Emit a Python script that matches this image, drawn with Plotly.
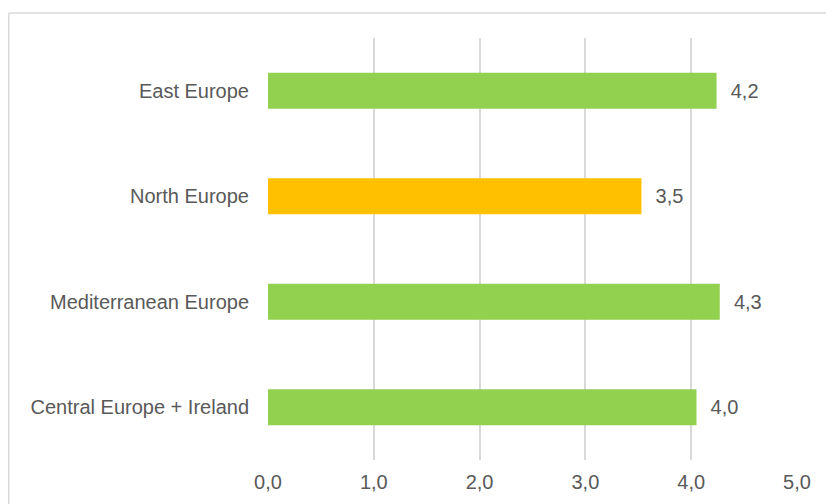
import plotly.graph_objects as go

categories = ["East Europe", "North Europe", "Mediterranean Europe", "Central Europe + Ireland"]
values = [4.24, 3.53, 4.27, 4.05]
bar_colors = ["#92D050", "#FFC000", "#92D050", "#92D050"]
tick_values = [0, 1, 2, 3, 4, 5]

TXT = "#595959"
GRID = "#D9D9D9"
FONT = "Liberation Sans, Arial, sans-serif"
FS = 20

fig = go.Figure(
    go.Bar(
        x=values,
        y=categories,
        orientation="h",
        marker=dict(color=bar_colors, line=dict(width=0)),
        texttemplate="\u00a0\u00a0%{x:.1f}",
        textposition="outside",
        textfont=dict(color=TXT, size=FS, family=FONT),
        cliponaxis=False,
        hoverinfo="skip",
    )
)

fig.update_layout(
    width=826,
    height=504,
    margin=dict(l=268, r=29, t=38, b=44),
    paper_bgcolor="white",
    plot_bgcolor="white",
    separators=",.",
    bargap=0.66,
    showlegend=False,
    font=dict(family=FONT, size=FS, color=TXT),
    xaxis=dict(
        range=[0, 5],
        tickvals=tick_values,
        tickformat=".1f",
        showgrid=True,
        gridcolor=GRID,
        gridwidth=1.5,
        zeroline=False,
        showline=False,
        ticks="",
        ticklabelstandoff=8,
        tickfont=dict(size=FS, color=TXT),
        fixedrange=True,
    ),
    yaxis=dict(
        autorange="reversed",
        showgrid=False,
        zeroline=False,
        showline=False,
        ticks="",
        ticklabelstandoff=18,
        tickfont=dict(size=FS, color=TXT),
        fixedrange=True,
    ),
    shapes=[
        dict(type="line", xref="paper", yref="paper", x0=-0.49, x1=1.2, y0=1.059, y1=1.059,
             line=dict(color="#D9D9D9", width=1.5)),
        dict(type="line", xref="paper", yref="paper", x0=-0.49, x1=-0.49, y0=-0.3, y1=1.059,
             line=dict(color="#D9D9D9", width=1.5)),
    ],
)

fig.write_html("out.html")
